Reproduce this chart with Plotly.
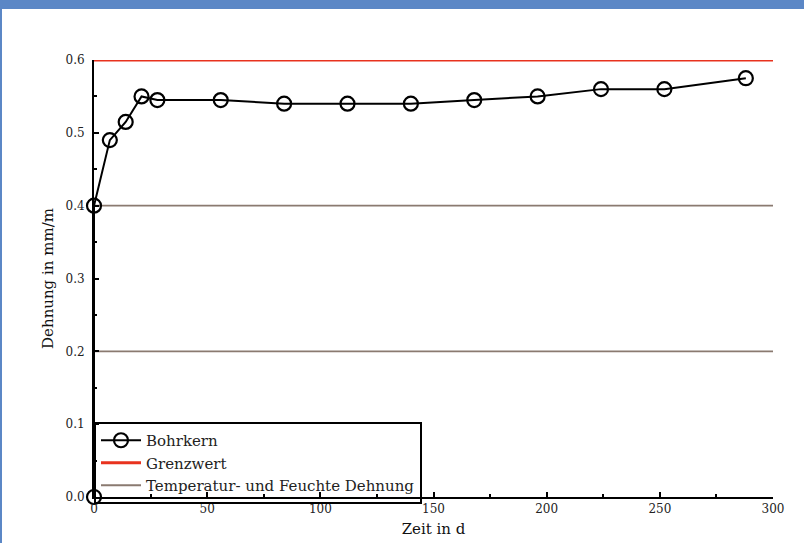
import plotly.graph_objects as go

# Data
days = [0, 0, 7, 14, 21, 28, 56, 84, 112, 140, 168, 196, 224, 252, 288]
strain = [0.0, 0.40, 0.49, 0.515, 0.55, 0.545, 0.545, 0.54, 0.54, 0.54, 0.545, 0.55, 0.56, 0.56, 0.575]
limit_value = 0.6
temp_levels = [0.2, 0.4]
x_extent = [0, 300]
x_ticks = [0, 50, 100, 150, 200, 250, 300]
y_ticks = [0.0, 0.1, 0.2, 0.3, 0.4, 0.5, 0.6]
y_ticklabels = ["0.0", "0.1", "0.2", "0.3", "0.4", "0.5", "0.6"]

FONT = "DejaVu Serif"
W, H = 804, 543
ML, MR, MT, MB = 94, 31, 60, 46
PW, PH = W - ML - MR, H - MT - MB

fig = go.Figure()

fig.add_trace(go.Scatter(
    x=x_extent, y=[limit_value, limit_value], mode="lines", name="Grenzwert",
    line=dict(color="#e8321e", width=3), cliponaxis=False, legendrank=2,
))

tx, ty = [], []
for lv in temp_levels:
    tx += [x_extent[0], x_extent[1], None]
    ty += [lv, lv, None]
fig.add_trace(go.Scatter(
    x=tx, y=ty, mode="lines", name="Temperatur- und Feuchte Dehnung",
    line=dict(color="#8a7a70", width=1.8), cliponaxis=False, legendrank=3,
))

fig.add_trace(go.Scatter(
    x=days, y=strain, mode="lines+markers", name="Bohrkern",
    line=dict(color="black", width=2),
    marker=dict(symbol="circle-open", size=14, color="black", line=dict(width=2.2)),
    cliponaxis=False, legendrank=1,
))

band = "#5b87c6"
fig.update_layout(
    width=W, height=H,
    margin=dict(l=ML, r=MR, t=MT, b=MB, autoexpand=False),
    paper_bgcolor="white", plot_bgcolor="white",
    font=dict(family=FONT, color="#222222"),
    showlegend=True,
    legend=dict(
        x=0, y=(0.103 / 0.6), xanchor="left", yanchor="top",
        bordercolor="black", borderwidth=2, bgcolor="rgba(255,255,255,0)",
        font=dict(family=FONT, size=15, color="#222222"),
        traceorder="normal", itemwidth=40,
    ),
    xaxis=dict(
        range=x_extent, tickvals=x_ticks, ticktext=[str(v) for v in x_ticks],
        showgrid=False, zeroline=False, showline=True, linecolor="black", linewidth=2,
        ticks="inside", ticklen=5, tickwidth=1.5, tickcolor="black",
        minor=dict(dtick=25, ticks="inside", ticklen=3, tickwidth=1.5, tickcolor="black"),
        tickfont=dict(family=FONT, size=12, color="#222222"),
        title=dict(text="Zeit in d", font=dict(family=FONT, size=15, color="#111111"), standoff=8),
        automargin=False,
    ),
    yaxis=dict(
        range=[0, 0.6], tickvals=y_ticks, ticktext=y_ticklabels,
        showgrid=False, zeroline=False, showline=True, linecolor="black", linewidth=2,
        ticks="inside", ticklen=5, tickwidth=1.5, tickcolor="black",
        minor=dict(dtick=0.05, ticks="inside", ticklen=3, tickwidth=1.5, tickcolor="black"),
        tickfont=dict(family=FONT, size=12, color="#222222"),
        ticklabelstandoff=5,
        title=dict(text="Dehnung in mm/m", font=dict(family=FONT, size=15, color="#111111"), standoff=8),
        automargin=False,
    ),
    shapes=[
        dict(type="rect", xref="paper", yref="paper",
             x0=-ML / PW, x1=(W - ML) / PW, y0=1 + (MT - 9) / PH, y1=1 + MT / PH,
             fillcolor=band, line=dict(width=0), layer="above"),
        dict(type="rect", xref="paper", yref="paper",
             x0=-ML / PW, x1=-(ML - 2) / PW, y0=-MB / PH, y1=1 + MT / PH,
             fillcolor=band, line=dict(width=0), layer="above"),
    ],
)

fig.write_html("out.html")
